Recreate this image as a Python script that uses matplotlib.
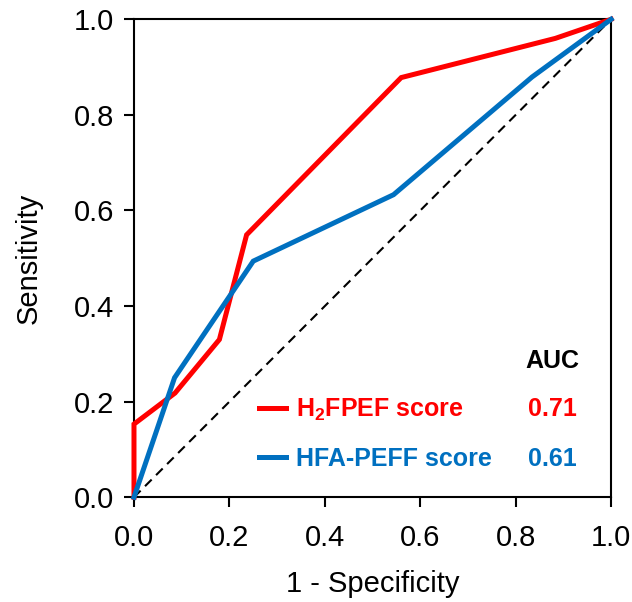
import matplotlib
matplotlib.use("Agg")
import matplotlib.pyplot as plt

plt.rcParams['font.family'] = ['Liberation Sans', 'DejaVu Sans']
plt.rcParams['mathtext.default'] = 'regular'

# ROC points
h2fpef_fpr = [0.0, 0.0, 0.086, 0.179, 0.236, 0.560, 0.883, 1.0]
h2fpef_tpr = [0.0, 0.153, 0.218, 0.330, 0.549, 0.878, 0.960, 1.0]
hfapeff_fpr = [0.0, 0.085, 0.250, 0.544, 0.834, 1.0]
hfapeff_tpr = [0.0, 0.250, 0.494, 0.633, 0.879, 1.0]
chance = [0.0, 1.0]

labels = ["H$_2$FPEF score", "HFA-PEFF score"]
auc_values = ["0.71", "0.61"]
colors = ["#FF0000", "#0070C0"]
ticks = [0.0, 0.2, 0.4, 0.6, 0.8, 1.0]

fig, ax = plt.subplots(figsize=(6.32, 6.02), dpi=100)
fig.subplots_adjust(left=0.212, right=0.967, top=0.968, bottom=0.174)

ax.plot(chance, chance, color="black", lw=1.5, ls=(0, (4.5, 3)))
ax.plot(h2fpef_fpr, h2fpef_tpr, color=colors[0], lw=3.6, label=labels[0],
        solid_joinstyle="miter", clip_on=False, zorder=3)
ax.plot(hfapeff_fpr, hfapeff_tpr, color=colors[1], lw=3.6, label=labels[1],
        solid_joinstyle="miter", clip_on=False, zorder=3)

ax.set_xlim(0, 1)
ax.set_ylim(0, 1)
ax.set_xticks(ticks)
ax.set_yticks(ticks)
ax.set_xticklabels([f"{t:.1f}" for t in ticks])
ax.set_yticklabels([f"{t:.1f}" for t in ticks])
ax.tick_params(axis="both", direction="out", length=7.5, width=1.5,
               labelsize=21, top=False, right=False)
ax.tick_params(axis="x", pad=12)
ax.tick_params(axis="y", pad=7)
for s in ax.spines.values():
    s.set_linewidth(1.5)

ax.set_xlabel("1 - Specificity", fontsize=21, labelpad=13)
ax.set_ylabel("Sensitivity", fontsize=21, labelpad=22)

leg = ax.legend(loc="center left", bbox_to_anchor=(0.262, 0.132), frameon=False,
                handlelength=1.1, handletextpad=0.4, borderpad=0, borderaxespad=0,
                labelspacing=0.95, prop={"size": 18, "weight": "bold"},
                labelcolor="linecolor")

ax.text(0.876, 0.285, "AUC", transform=ax.transAxes, ha="center", va="center",
        fontsize=18, fontweight="bold", color="black")
for i, val in enumerate(auc_values):
    ax.text(0.876, [0.184, 0.079][i], val, transform=ax.transAxes, ha="center",
            va="center", fontsize=18, fontweight="bold", color=colors[i])

plt.savefig("out.png", dpi=100)
